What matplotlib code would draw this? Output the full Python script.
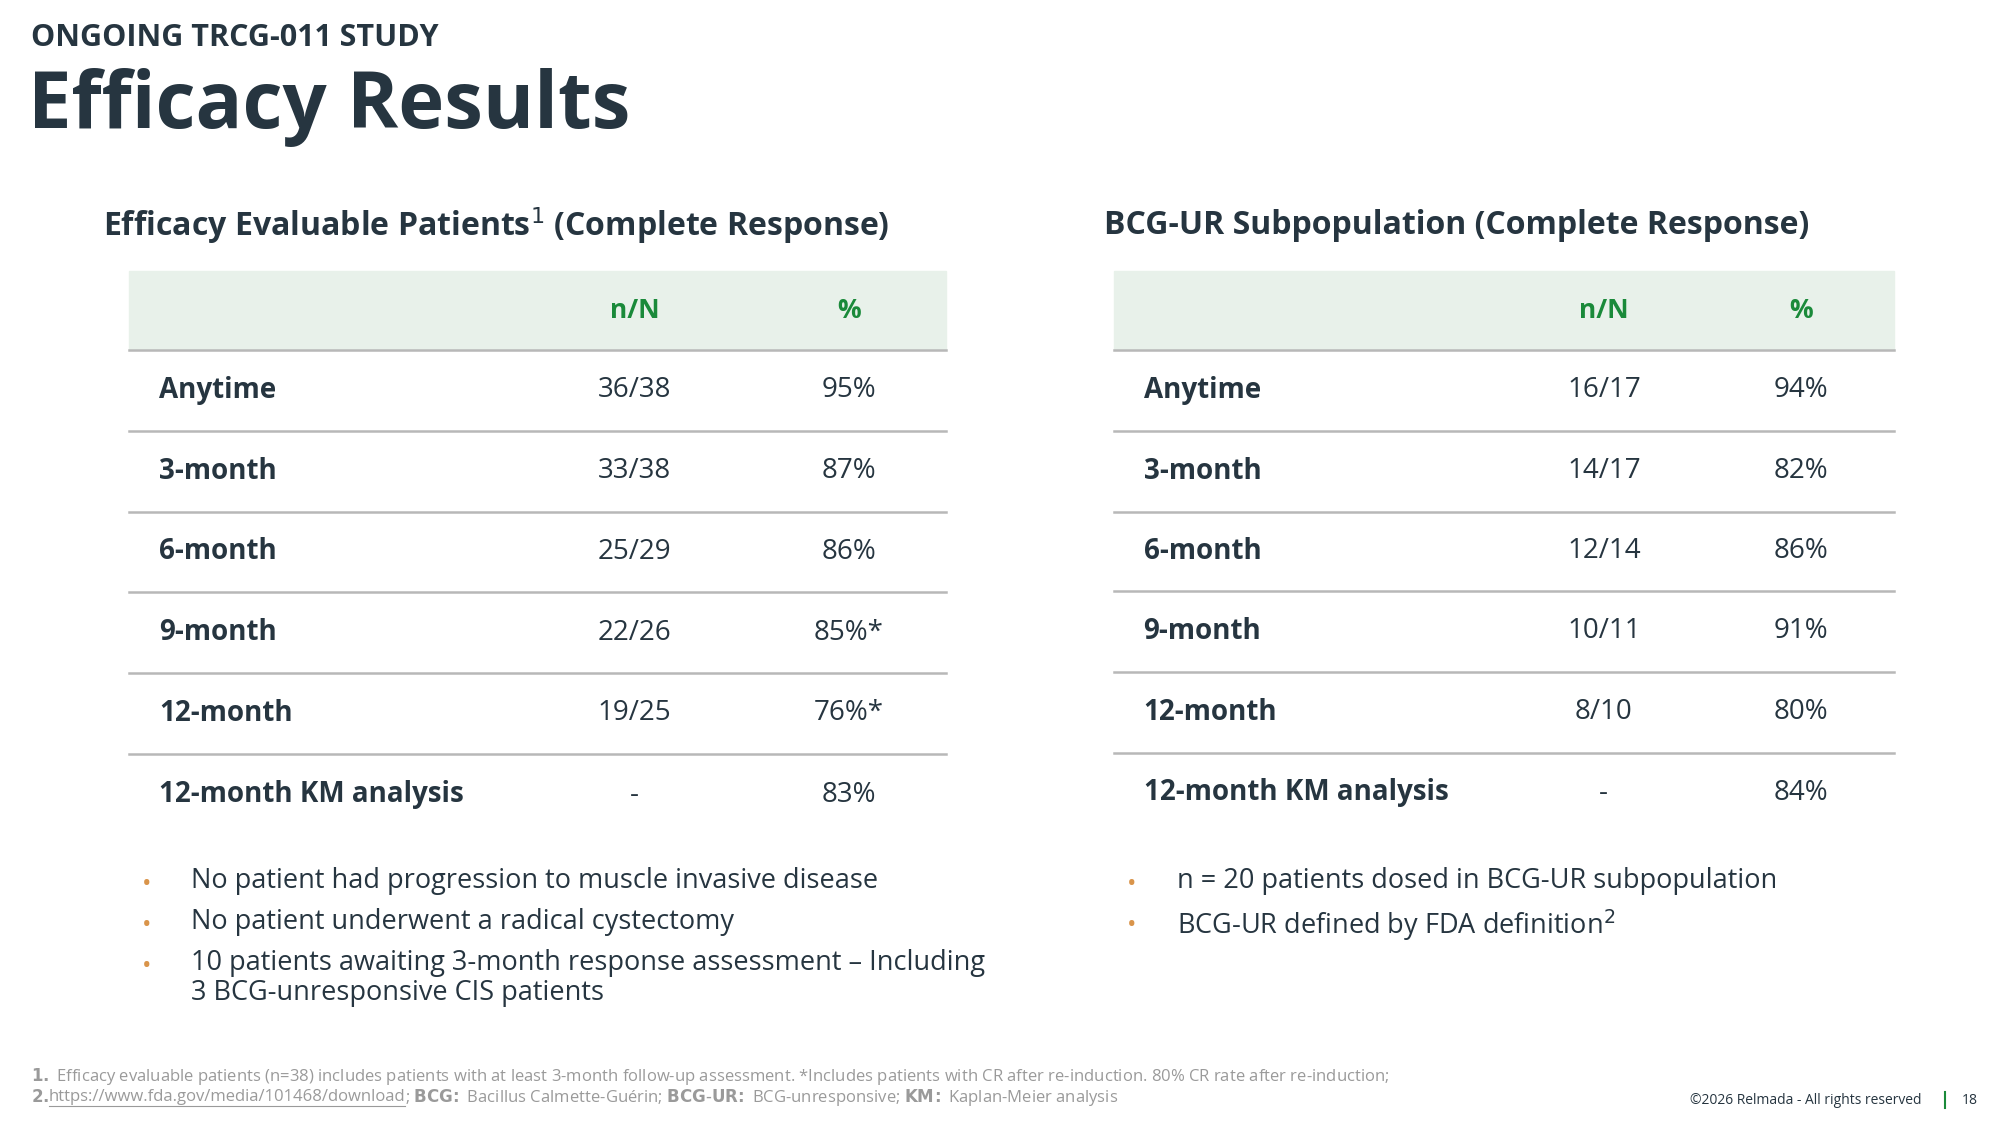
import matplotlib
matplotlib.use('Agg')
import matplotlib.pyplot as plt
from matplotlib.patches import Rectangle
from matplotlib.lines import Line2D

plt.rcParams['font.family'] = ['Open Sans', 'DejaVu Sans']

rows = ['Anytime', '3-month', '6-month', '9-month', '12-month', '12-month KM analysis']
left_nN = ['36/38', '33/38', '25/29', '22/26', '19/25', '-']
left_pct = ['95%', '87%', '86%', '85%*', '76%*', '83%']
right_nN = ['16/17', '14/17', '12/14', '10/11', '8/10', '-']
right_pct = ['94%', '82%', '86%', '91%', '80%', '84%']

left_bullets = ['No patient had progression to muscle invasive disease',
                'No patient underwent a radical cystectomy',
                '10 patients awaiting 3-month response assessment \u2013 Including\n3 BCG-unresponsive CIS patients']
right_bullets = ['n = 20 patients dosed in BCG-UR subpopulation',
                 'BCG-UR defined by FDA definition$^2$']

DARK = '#263540'
GREEN = '#1a8a3a'
HEAD = '#e8f1ea'
ORANGE = '#d9944a'
GREY = '#9a9a9a'

fig = plt.figure(figsize=(20, 11.25), dpi=100)
W, H = 1560, 877.5


def P(x, y):
    return x / W, 1 - y / H


def T(x, y, s, **kw):
    return fig.text(*P(x, y), s, **kw)


T(24, 30, 'ONGOING TRCG-011 STUDY', fontsize=22, fontweight='bold', color=DARK, va='center')
T(22, 84, 'Efficacy Results', fontsize=56, fontweight='bold', color=DARK, va='center')


def table(x0, x1, c1, c2, title_x, title, nN, pct, bottoms):
    T(title_x, 176, title, fontsize=23, fontweight='bold', color=DARK, va='center')
    fx0, fy0 = P(x0, 273)
    fx1, fy1 = P(x1, 211)
    fig.add_artist(Rectangle((fx0, fy0), fx1 - fx0, fy1 - fy0, color=HEAD, transform=fig.transFigure, zorder=0))
    T(c1, 242, 'n/N', fontsize=19, fontweight='bold', color=GREEN, ha='center', va='center')
    T(c2, 242, '%', fontsize=19, fontweight='bold', color=GREEN, ha='center', va='center')
    top = 273
    for i, lab in enumerate(rows):
        b = bottoms[i]
        yc = (top + b) / 2
        T(x0 + 23, yc, lab, fontsize=20, fontweight='bold', color=DARK, va='center')
        T(c1, yc, nN[i], fontsize=20, color=DARK, ha='center', va='center')
        T(c2, yc, pct[i], fontsize=20, color=DARK, ha='center', va='center')
        top = b
    for y in [273] + bottoms[:-1]:
        a, yy = P(x0, y)
        c, _ = P(x1, y)
        fig.add_artist(Line2D([a, c], [yy, yy], color='#b8b8b8', lw=1.8, transform=fig.transFigure))


table(101, 738, 495, 662, 80, 'Efficacy Evaluable Patients$^1$ (Complete Response)',
      left_nN, left_pct, [336, 399, 462, 525, 588, 652])
table(869, 1477, 1251, 1405, 861, 'BCG-UR Subpopulation (Complete Response)',
      right_nN, right_pct, [336, 399, 461, 524, 587, 650])


def bullets(xd, xt, ys, items):
    for y, s in zip(ys, items):
        T(xd, y, '\u2022', fontsize=18, color=ORANGE, va='center')
        T(xt, y - 14, s, fontsize=19.5, color=DARK, va='top', linespacing=1.1)


bullets(111, 149, [690, 722, 754], left_bullets)
bullets(879, 918, [690, 722], right_bullets)

T(24, 840, r'$\mathbf{1.}$ Efficacy evaluable patients (n=38) includes patients with at least 3-month follow-up assessment. '
   '*Includes patients with CR after re-induction. 80% CR rate after re-induction;',
  fontsize=12, color=GREY, va='center')
T(24, 856, r'$\mathbf{2.}$', fontsize=12, color=GREY, va='center')
link = T(38, 856, 'https://www.fda.gov/media/101468/download', fontsize=12, color=GREY, va='center')
fig.canvas.draw()
bb = link.get_window_extent().transformed(fig.transFigure.inverted())
uy = P(0, 863)[1]
fig.add_artist(Line2D([bb.x0, bb.x1], [uy, uy], color=GREY, lw=0.8, transform=fig.transFigure))
fig.text(bb.x1, P(0, 856)[1],
         r'; $\mathbf{BCG\!:}$ Bacillus Calmette-Guérin; $\mathbf{BCG\text{-}UR\!:}$ BCG-unresponsive; $\mathbf{KM\!:}$ Kaplan-Meier analysis',
         fontsize=12, color=GREY, va='center')
T(1499, 858, '©2026 Relmada - All rights reserved', fontsize=10, color=DARK, ha='right', va='center')
a, y1 = P(1517, 852)
_, y2 = P(1517, 864)
fig.add_artist(Line2D([a, a], [y1, y2], color=GREEN, lw=1.5, transform=fig.transFigure))
T(1530, 858, '18', fontsize=10, color=DARK, va='center')

fig.savefig('out.png', dpi=100, facecolor='white')
